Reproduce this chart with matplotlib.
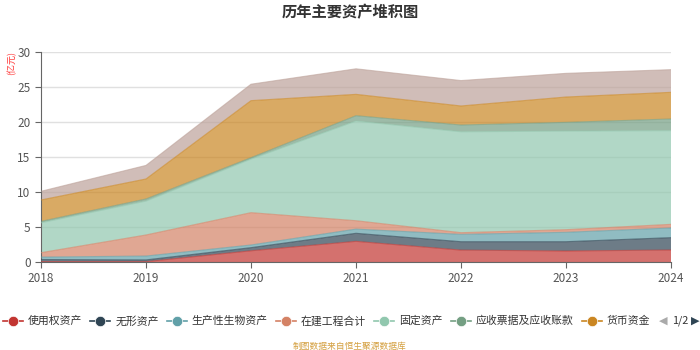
import numpy as np
import matplotlib
matplotlib.use('Agg')
import matplotlib.pyplot as plt
from matplotlib.lines import Line2D

plt.rcParams['font.family'] = ['Noto Sans CJK SC', 'DejaVu Sans']

# ---------------------------------------------------------------- data (亿元)
years = [2018, 2019, 2020, 2021, 2022, 2023, 2024]
names = ['使用权资产', '无形资产', '生产性生物资产', '在建工程合计',
         '固定资产', '应收票据及应收账款', '货币资金', '存货']
right_of_use = [0.05, 0.05, 1.60, 2.95, 1.70, 1.57, 1.71]
intangible = [0.30, 0.25, 0.45, 1.15, 1.20, 1.33, 1.77]
bio_assets = [0.35, 0.55, 0.38, 0.60, 1.05, 1.34, 1.38]
construction = [0.63, 3.01, 4.62, 1.20, 0.24, 0.38, 0.52]
fixed_assets = [4.27, 4.84, 7.65, 14.24, 14.41, 14.08, 13.38]
receivables = [0.20, 0.30, 0.20, 0.76, 0.97, 1.25, 1.67]
cash = [3.06, 2.86, 8.15, 3.05, 2.72, 3.62, 3.81]
inventory = [1.24, 1.94, 2.35, 3.65, 3.63, 3.38, 3.24]

series = [right_of_use, intangible, bio_assets, construction,
          fixed_assets, receivables, cash, inventory]
colors = ['#c23531', '#2f4554', '#61a0a8', '#d48265',
          '#91c7ae', '#749f83', '#ca8622', '#bda29a']

W, H = 700, 350

# ---------------------------------------------------------------- figure
fig = plt.figure(figsize=(7, 3.5), dpi=100)
ax = fig.add_axes([41 / W, 88 / H, 630 / W, 210 / H])

ax.stackplot(years, *series, colors=colors, alpha=0.7,
             edgecolor='none', zorder=2)
cum = np.cumsum(np.array(series), axis=0)
for c, col in zip(cum, colors):
    ax.plot(years, c, color=col, lw=0.8, alpha=0.6, zorder=3)

ax.set_xlim(2018, 2024)
ax.set_ylim(0, 30)
ax.set_xticks(years)
ax.set_yticks(np.arange(0, 31, 5))
ax.grid(axis='y', color='#e0e0e0', lw=1, zorder=0)
for s in ['top', 'right']:
    ax.spines[s].set_visible(False)
ax.spines['left'].set_color('#666666')
ax.spines['bottom'].set_color('#666666')
ax.tick_params(axis='both', colors='#666666', labelcolor='#555555',
               labelsize=8.5, length=4, direction='out')

fig.text(12 / W, 1 - 63 / H, '(亿元)', rotation=90, color='#ff3333',
         fontsize=6.5, ha='center', va='center')

fig.text(0.5, 1 - 12 / H, '历年主要资产堆积图', ha='center', va='center',
         fontsize=11, fontweight='bold', color='#333333')

# ---------------------------------------------------------------- legend (page 1 of 2)
ly = 1 - 321 / H
renderer = fig.canvas.get_renderer()
x = 3
for name, col in zip(names[:7], colors[:7]):
    fig.add_artist(Line2D([x / W, (x + 20) / W], [ly, ly], color=col, lw=1.2))
    fig.add_artist(Line2D([(x + 10) / W], [ly], color=col, marker='o',
                          markersize=7.5, markeredgecolor='white',
                          markeredgewidth=0.5))
    t = fig.text((x + 25) / W, ly, name, ha='left', va='center',
                 fontsize=7.8, color='#333333')
    bb = t.get_window_extent(renderer)
    x = bb.x1 + 8
fig.text(663 / W, ly, '◀', color='#aaaaaa', fontsize=8, ha='center',
         va='center', family=['DejaVu Sans'])
fig.text(680 / W, ly, '1/2', color='#333333', fontsize=7.8,
         ha='center', va='center')
fig.text(695 / W, ly, '▶', color='#2f4554', fontsize=8, ha='center',
         va='center', family=['DejaVu Sans'])

fig.text(0.5, 4 / H, '制图数据来自恒生聚源数据库', ha='center', va='center',
         fontsize=6.3, color='#d4a040')

fig.savefig('out.png', dpi=100)
